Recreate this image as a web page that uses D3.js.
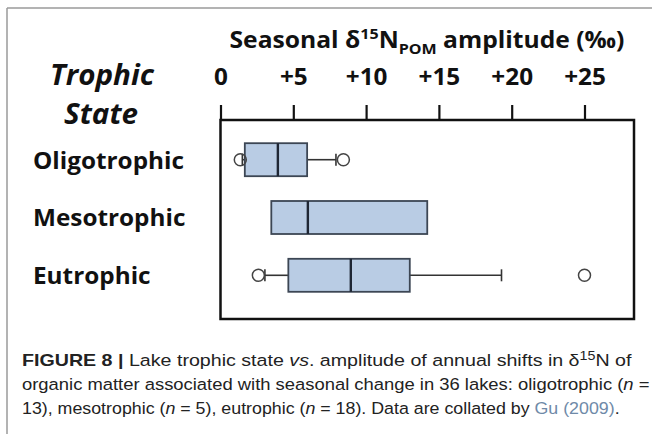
<!DOCTYPE html>
<html>
<head>
<meta charset="utf-8">
<script src="https://cdn.jsdelivr.net/npm/d3@7"></script>
<style>
  html, body { margin: 0; padding: 0; background: #fff; }
  svg { display: block; }
</style>
</head>
<body>
<svg id="chart" width="652" height="434"></svg>
<script>
// ---- data ----
const categories = ["Oligotrophic", "Mesotrophic", "Eutrophic"];
const q1Values = [1.67, 3.49, 4.66];
const medianValues = [3.94, 6.0, 8.95];
const q3Values = [5.95, 14.2, 13.0];
const whiskerLowValues = [1.5, null, 3.05];
const whiskerHighValues = [7.93, null, 19.3];
const outlierValues = [[1.36, 8.44], [], [2.6, 25.0]];
const tickValues = [0, 5, 10, 15, 20, 25];
const tickLabels = ["0", "+5", "+10", "+15", "+20", "+25"];

const svg = d3.select("#chart");
const labelFont = "'Open Sans', 'DejaVu Sans', sans-serif";
const capFont = "'Liberation Sans', Arial, sans-serif";

// horizontally fit a text element to a target width (scale around its anchor point)
function fitWidth(sel, target, k) {
  const node = sel.node();
  const w = node.getComputedTextLength();
  const s = k || (target / w);
  const x = +sel.attr("x") || 0, y = +sel.attr("y") || 0;
  sel.attr("transform", `translate(${x},${y}) scale(${s},1) translate(${-x},${-y})`);
  return s;
}

// outer figure border (top and left)
svg.append("line").attr("x1", 7).attr("y1", 8).attr("x2", 652).attr("y2", 8)
  .attr("stroke", "#9a9a9a").attr("stroke-width", 1.5);
svg.append("line").attr("x1", 7).attr("y1", 8).attr("x2", 7).attr("y2", 434)
  .attr("stroke", "#9a9a9a").attr("stroke-width", 1.5);

// scales
const plotLeft = 220.5, plotRight = 634, plotTop = 120, plotBottom = 319;
const x = d3.scaleLinear().domain([0, 28.4]).range([plotLeft, plotRight]);
const y = d3.scalePoint().domain(categories).range([159.7, 275.3]);
const boxH = 33;

// frame
svg.append("rect").attr("x", plotLeft).attr("y", plotTop)
  .attr("width", plotRight - plotLeft).attr("height", plotBottom - plotTop)
  .attr("fill", "none").attr("stroke", "#111").attr("stroke-width", 2.5);

// axis on top
const axis = d3.axisTop(x).tickValues(tickValues)
  .tickFormat((d, i) => tickLabels[i]).tickSize(15).tickSizeOuter(0).tickPadding(20);
const ag = svg.append("g").attr("transform", `translate(0,${plotTop})`).call(axis);
ag.select(".domain").remove();
ag.selectAll(".tick line").attr("stroke", "#111").attr("stroke-width", 2.2);
ag.selectAll(".tick text").attr("fill", "#111")
  .style("font-family", labelFont).style("font-weight", "700").style("font-size", "24px");
let tickK = null;
ag.selectAll(".tick text").each(function(d) {
  if (d === 10) {
    tickK = 41.7 / this.getComputedTextLength();
  }
});
ag.selectAll(".tick text").attr("transform", `scale(${tickK},1)`);

// title
const title = svg.append("text").attr("x", 427).attr("y", 48)
  .attr("text-anchor", "middle").attr("fill", "#111")
  .style("font-family", labelFont).style("font-weight", "700").style("font-size", "23px");
title.append("tspan").text("Seasonal δ");
title.append("tspan").attr("dy", -9).style("font-size", "15px").text("15");
title.append("tspan").attr("dy", 9).text("N");
title.append("tspan").attr("dy", 6).style("font-size", "15px").text("POM");
title.append("tspan").attr("dy", -6).text(" amplitude (‰)");
fitWidth(title, 395);

// left header
const h1 = svg.append("text").attr("x", 102).attr("y", 85).attr("text-anchor", "middle")
  .attr("fill", "#111").style("font-family", labelFont).style("font-weight", "700")
  .style("font-style", "italic").style("font-size", "29px").text("Trophic");
const hk = fitWidth(h1, 104);
const h2 = svg.append("text").attr("x", 101).attr("y", 124).attr("text-anchor", "middle")
  .attr("fill", "#111").style("font-family", labelFont).style("font-weight", "700")
  .style("font-style", "italic").style("font-size", "29px").text("State");
fitWidth(h2, 0, hk);

// category labels
let rk = null;
categories.forEach((c, i) => {
  const t = svg.append("text").attr("x", 33).attr("y", y(c) + 9)
    .attr("fill", "#111").style("font-family", labelFont).style("font-weight", "700")
    .style("font-size", "24px").text(c);
  if (i === 0) rk = fitWidth(t, 151);
  else fitWidth(t, 0, rk);
});

// boxes
const boxStroke = "#3c4654";
categories.forEach((c, i) => {
  const cy = y(c);
  const g = svg.append("g");
  // whiskers
  if (whiskerLowValues[i] != null) {
    g.append("line").attr("x1", x(whiskerLowValues[i])).attr("x2", x(q1Values[i]))
      .attr("y1", cy).attr("y2", cy).attr("stroke", "#333").attr("stroke-width", 1.6);
    g.append("line").attr("x1", x(whiskerLowValues[i])).attr("x2", x(whiskerLowValues[i]))
      .attr("y1", cy - 6).attr("y2", cy + 6).attr("stroke", "#333").attr("stroke-width", 1.6);
  }
  if (whiskerHighValues[i] != null) {
    g.append("line").attr("x1", x(q3Values[i])).attr("x2", x(whiskerHighValues[i]))
      .attr("y1", cy).attr("y2", cy).attr("stroke", "#333").attr("stroke-width", 1.6);
    g.append("line").attr("x1", x(whiskerHighValues[i])).attr("x2", x(whiskerHighValues[i]))
      .attr("y1", cy - 6).attr("y2", cy + 6).attr("stroke", "#333").attr("stroke-width", 1.6);
  }
  // box
  g.append("rect").attr("x", x(q1Values[i])).attr("y", cy - boxH / 2)
    .attr("width", x(q3Values[i]) - x(q1Values[i])).attr("height", boxH)
    .attr("fill", "#b9cce4").attr("stroke", boxStroke).attr("stroke-width", 1.8);
  // median
  g.append("line").attr("x1", x(medianValues[i])).attr("x2", x(medianValues[i]))
    .attr("y1", cy - boxH / 2).attr("y2", cy + boxH / 2)
    .attr("stroke", "#1e2634").attr("stroke-width", 2.4);
  // outliers
  g.selectAll("circle.o").data(outlierValues[i]).enter().append("circle")
    .attr("cx", d => x(d)).attr("cy", cy).attr("r", 6)
    .attr("fill", "none").attr("stroke", "#444").attr("stroke-width", 1.5);
});

// caption
const capColor = "#222";
const capSize = "16.5px";
function capLine(yPos, target) {
  return svg.append("text").attr("x", 22).attr("y", yPos).attr("fill", capColor)
    .style("font-family", capFont).style("font-size", capSize);
}
const c1 = capLine(366);
c1.append("tspan").style("font-weight", "700").text("FIGURE 8 | ");
c1.append("tspan").text("Lake trophic state ");
c1.append("tspan").style("font-style", "italic").text("vs");
c1.append("tspan").text(". amplitude of annual shifts in δ");
c1.append("tspan").attr("dy", -6).style("font-size", "12px").text("15");
c1.append("tspan").attr("dy", 6).text("N of");
fitWidth(c1, 610);

const c2 = capLine(390);
c2.append("tspan").text("organic matter associated with seasonal change in 36 lakes: oligotrophic (");
c2.append("tspan").style("font-style", "italic").text("n");
c2.append("tspan").text(" =");
fitWidth(c2, 628);

const c3 = capLine(414);
c3.append("tspan").text("13), mesotrophic (");
c3.append("tspan").style("font-style", "italic").text("n");
c3.append("tspan").text(" = 5), eutrophic (");
c3.append("tspan").style("font-style", "italic").text("n");
c3.append("tspan").text(" = 18). Data are collated by ");
c3.append("tspan").attr("fill", "#6f8aa8").text("Gu (2009)");
c3.append("tspan").text(".");
fitWidth(c3, 598);
</script>
</body>
</html>
